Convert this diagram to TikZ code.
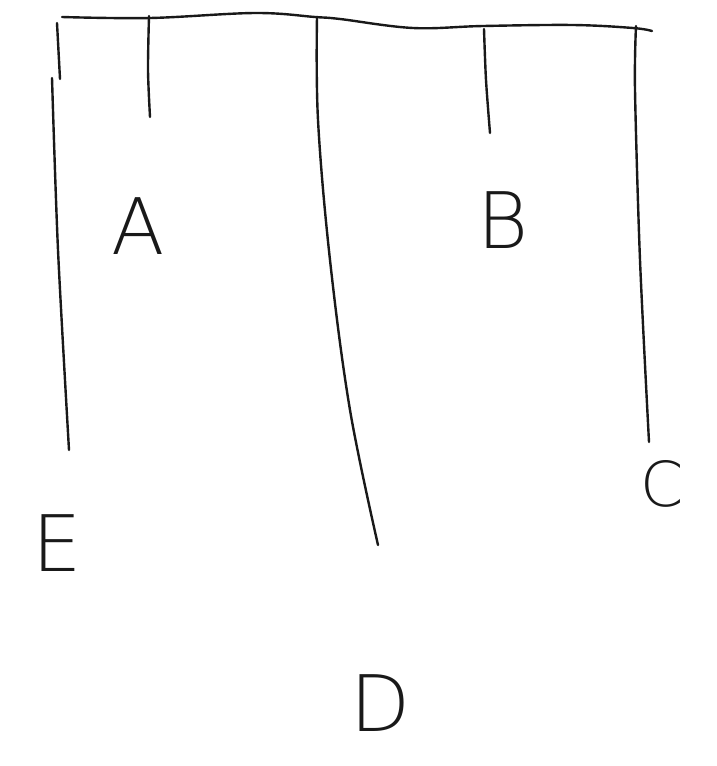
\documentclass[tikz,border=0pt]{standalone}
\usepackage{fontspec}
\setmainfont{DejaVu Sans}[UprightFont = * ExtraLight]
\begin{document}
\begin{tikzpicture}[x=1pt,y=-1pt,
  pen/.style={line width=2.4pt,line cap=round,line join=round,color=black!90},
  letter/.style={font=\fontsize{78}{78}\selectfont,inner sep=0pt,text=black!90}]
\useasboundingbox (0,0) rectangle (717,766);
% top bar
\draw[pen] plot[smooth,tension=0.6] coordinates {(62,17) (150,18) (255,13) (315,17) (340,19) (413,28) (483,26) (573,25) (633,28) (652,31)};
% left wall (two strokes)
\draw[pen] (57,23) -- (60,79);
\draw[pen] plot[smooth] coordinates {(52,78) (58,250) (69,450)};
% short ticks
\draw[pen] plot[smooth] coordinates {(149,16) (148,70) (150,117)};
\draw[pen] plot[smooth] coordinates {(484,29) (486,80) (490,133)};
% middle divider
\draw[pen] plot[smooth,tension=0.6] coordinates {(317,17) (318,120) (330,260) (350,410) (378,545)};
% right wall
\draw[pen] plot[smooth] coordinates {(636,26) (635,90) (640,260) (649,442)};
% labels
\node[letter] (A) at (138,226) {A};
\node[letter] (B) at (503,220) {B};
\node[letter,font=\fontsize{62}{62}\selectfont] (C) at (662,484) {C};
\node[letter] (E) at (57,543) {E};
\node[letter] (D) at (381,703) {D};
\end{tikzpicture}
\end{document}
